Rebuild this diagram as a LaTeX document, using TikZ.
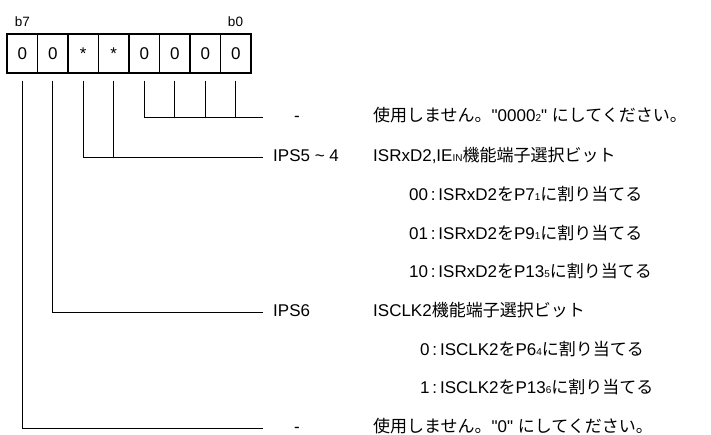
\documentclass[tikz,border=0pt]{standalone}
\usepackage{fontspec}
\setmainfont{Liberation Sans}
\newfontfamily\jp{Noto Sans CJK JP}
\newcommand{\sm}[1]{{\fontsize{10}{10}\selectfont #1}}
\newcommand{\q}{\textquotedbl}
\begin{document}
\begin{tikzpicture}[x=1pt,y=-1pt,
  cell/.style={draw,line width=1.1pt,minimum width=30.5pt,minimum height=39pt,inner sep=0pt,font=\fontsize{17}{17}\selectfont},
  lead/.style={line width=0.9pt},
  lbl/.style={anchor=west,inner sep=0pt,text height=12pt,text depth=3pt,font=\fontsize{17}{17}\selectfont},
  hyph/.style={inner sep=0pt,text height=12pt,text depth=3pt,font=\fontsize{17}{17}\selectfont},
  bitlbl/.style={inner sep=0pt,font=\fontsize{13.5}{13.5}\selectfont}]
\clip (0,0) rectangle (711,435);
\foreach \i/\v [count=\k from 0] in {7/0,6/0,5/*,4/*,3/0,2/0,1/0,0/0}
  \node[cell] (c\i) at (22.25+30.5*\k, 53.5) {\v};
\node[bitlbl] (b7) at (22.5,22) {b7};
\node[bitlbl] (b0) at (235.5,22) {b0};
% row ends
\coordinate (r1) at (263,117);
\coordinate (r2) at (263,157);
\coordinate (r3) at (263,312);
\coordinate (r4) at (263,428);
% leads
\draw[lead] ([yshift=-7pt]c3.south) |- (r1);
\foreach \i in {2,1,0} \draw[lead] ([yshift=-7pt]c\i.south) -- (c\i |- r1);
\draw[lead] ([yshift=-7pt]c5.south) |- (r2);
\draw[lead] ([yshift=-7pt]c4.south) -- (c4 |- r2);
\draw[lead] ([yshift=-7pt]c6.south) |- (r3);
\draw[lead] ([yshift=-7pt]c7.south) |- (r4);
% labels
\node[hyph] (d1) at (297,117) {-};
\node[lbl] (t1) at (373,117) {{\jp 使用しません。}\q 0000\sm{2}\q\ {\jp にしてください。}};
\node[lbl] (n2) at (273,157) {IPS5 \textasciitilde{} 4};
\node[lbl] (t2) at (373,157) {ISRxD2,IE\sm{IN}{\jp 機能端子選択ビット}};
\node[lbl] (o1) at (409,196) {00\,:\,ISRxD2{\jp を}P7\sm{1}{\jp に割り当てる}};
\node[lbl] (o2) at (409,235) {01\,:\,ISRxD2{\jp を}P9\sm{1}{\jp に割り当てる}};
\node[lbl] (o3) at (409,273) {10\,:\,ISRxD2{\jp を}P13\sm{5}{\jp に割り当てる}};
\node[lbl] (n3) at (273,312) {IPS6};
\node[lbl] (t3) at (373,312) {ISCLK2{\jp 機能端子選択ビット}};
\node[lbl] (o4) at (420,351) {0\,:\,ISCLK2{\jp を}P6\sm{4}{\jp に割り当てる}};
\node[lbl] (o5) at (420,389) {1\,:\,ISCLK2{\jp を}P13\sm{6}{\jp に割り当てる}};
\node[hyph] (d4) at (297,428) {-};
\node[lbl] (t4) at (373,428) {{\jp 使用しません。}\q 0\q\ {\jp にしてください。}};
\end{tikzpicture}
\end{document}
